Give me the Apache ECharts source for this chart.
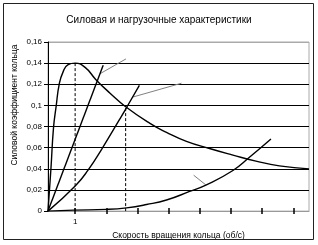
<!DOCTYPE html>
<html>
<head>
<meta charset="utf-8">
<script src="https://cdn.jsdelivr.net/npm/echarts@6/dist/echarts.min.js"></script>
<style>html,body{margin:0;padding:0;background:#fff}#c{width:318px;height:245px}</style>
</head>
<body>
<div id="c"></div>
<script>
const titleText = 'Силовая и нагрузочные характеристики';
const xName = 'Скорость вращения кольца (об/с)';
const yName = 'Силовой коэффициент кольца';
const xTicks = [1, 2, 3, 4, 5, 6, 7, 8];
const xLabels = [1];
const forceX = [0.13, 0.224, 0.307, 0.393, 0.489, 0.617, 0.776, 1.0, 1.32, 1.66, 2.12, 2.61, 3.4, 3.93, 4.57, 5.31, 6.06, 6.8, 7.55, 8.5];
const forceY = [0, 0.04, 0.079, 0.0995, 0.12, 0.132, 0.1386, 0.14, 0.136, 0.1246, 0.1116, 0.099, 0.083, 0.0745, 0.066, 0.0592, 0.053, 0.0473, 0.0428, 0.04];
const load1X = [0.13, 1.9];
const load1Y = [0, 0.138];
const load2X = [0.13, 1.01, 1.42, 1.84, 2.43, 2.65, 3.06];
const load2Y = [0, 0.024, 0.039, 0.058, 0.087, 0.098, 0.119];
const load3X = [0.13, 0.95, 2.01, 2.65, 3.29, 3.93, 4.67, 5.21, 6.06, 6.59, 7.28];
const load3Y = [0, 0.0009, 0.0016, 0.0031, 0.0062, 0.0105, 0.0186, 0.0248, 0.0384, 0.0509, 0.0682];
const pointer1X = [1.8, 2.63];
const pointer1Y = [0.13, 0.144];
const pointer2X = [2.86, 4.41];
const pointer2Y = [0.108, 0.121];
const pointer3X = [4.8, 5.19];
const pointer3Y = [0.034, 0.0248];
const drop1X = [1.0, 1.0];
const drop1Y = [0, 0.14];
const drop2X = [2.62, 2.62];
const drop2Y = [0, 0.099];

const zip = (xs, ys) => xs.map((x, i) => [x, ys[i]]);
const FONT = 'Liberation Sans, Arial, sans-serif';

const chart = echarts.init(document.getElementById('c'), null, {renderer: 'canvas'});
const blackLine = (data, smooth) => ({
  type: 'line', data, symbol: 'none', smooth: smooth,
  lineStyle: {color: '#000', width: 1.4}, silent: true, z: 3
});
const thin = (data, color, type) => ({
  type: 'line', data, symbol: 'none',
  lineStyle: {color: color, width: 1, type: type || 'solid'}, silent: true, z: 2
});
chart.setOption({
  animation: false,
  backgroundColor: '#fff',
  title: {
    text: titleText, left: 'center', top: 10,
    textStyle: {fontFamily: FONT, fontSize: 10, fontWeight: 'normal', color: '#000'}
  },
  grid: {left: 48, right: 9, top: 42, bottom: 31, show: true, borderColor: '#aaa', borderWidth: 1},
  xAxis: [{
    type: 'value', min: 0.13, max: 8.5,
    name: xName, nameLocation: 'middle', nameGap: 14,
    nameTextStyle: {fontFamily: FONT, fontSize: 8.5, color: '#000'},
    axisLine: {lineStyle: {color: '#999', width: 1}},
    axisTick: {show: true, customValues: xTicks, length: 3, lineStyle: {color: '#000', width: 1.5}},
    axisLabel: {customValues: xLabels, fontFamily: FONT, fontSize: 8, color: '#000', margin: 7},
    splitLine: {show: false}
  }, {
    type: 'value', min: 0.13, max: 8.5, position: 'bottom',
    axisLine: {show: false},
    axisTick: {show: true, inside: true, customValues: xTicks, length: 3, lineStyle: {color: '#000', width: 1.5}},
    axisLabel: {show: false},
    splitLine: {show: false}
  }],
  yAxis: {
    type: 'value', min: 0, max: 0.16, interval: 0.02,
    axisLine: {show: true, lineStyle: {color: '#000', width: 1}},
    axisTick: {show: true, length: 4, lineStyle: {color: '#000'}},
    axisLabel: {
      fontFamily: FONT, fontSize: 8, color: '#000', margin: 6,
      formatter: v => String(Math.round(v * 100) / 100).replace('.', ',')
    },
    splitLine: {show: true, lineStyle: {color: ['#999', '#000', '#000', '#000', '#000', '#000', '#000', '#000', '#aaa'], width: 1}}
  },
  graphic: [
    {type: 'rect', shape: {x: 3.5, y: 3.5, width: 310, height: 236}, style: {fill: 'none', stroke: '#222', lineWidth: 1}, silent: true, z: 10},
    {type: 'text', x: 15, y: 105, rotation: Math.PI / 2,
      style: {text: yName, fontFamily: FONT, fontSize: 8.5, fill: '#000', align: 'center', verticalAlign: 'middle'}, silent: true}
  ],
  series: [
    thin(zip(drop1X, drop1Y), '#000', [3, 2]),
    thin(zip(drop2X, drop2Y), '#000', [3, 2]),
    thin(zip(pointer1X, pointer1Y), '#808080'),
    thin(zip(pointer2X, pointer2Y), '#808080'),
    thin(zip(pointer3X, pointer3Y), '#808080'),
    blackLine(zip(forceX, forceY), 0.5),
    blackLine(zip(load1X, load1Y), false),
    blackLine(zip(load2X, load2Y), 0.5),
    blackLine(zip(load3X, load3Y), 0.5)
  ]
});
</script>
</body>
</html>
